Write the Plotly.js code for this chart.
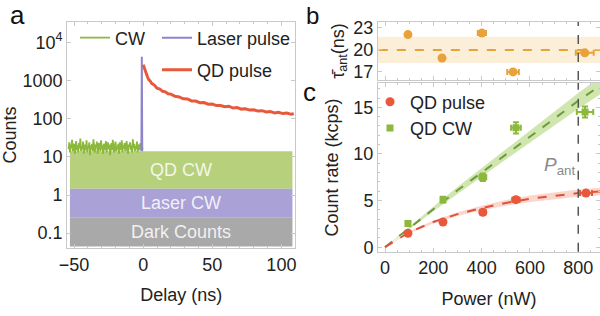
<!DOCTYPE html>
<html><head><meta charset="utf-8">
<script src="https://cdn.plot.ly/plotly-3.0.1.min.js"></script>
<style>html,body{margin:0;padding:0;background:#fff}#c{width:600px;height:316px}</style>
</head><body><div id="c"></div>
<script>
// ---------- Panel a data ----------
const cwStart = -54, cwStep = 0.5;
const cwCounts = [16,24,13,21,17,28,14,19,22,12,18,26,15,20,13,23,17,30,14,19,16,25,12,18,21,15,27,13,19,17,24,11,20,16,22,14,29,17,13,21,18,25,12,16,23,19,14,27,16,20,12,22,18,15,26,13,19,24,16,21,11,18,23,15,28,17,13,20,25,14,19,16,22,12,24,18,15,27,13,20,17,23,14,19,26,16,12,21,18,24,15,20,13,29,17,22,14,19,16,25,13,21,18,15,23,17,20,16];
const laserT = [-1.3, -1.0, -0.7];
const laserCounts = [14, 4200, 14];
const qdT = [0,1,2,3,4,5,6,8,10,12,14,16,18,20,23,26,29,32,35,38,41,44,47,50,53,56,59,62,65,68,71,74,77,80,83,86,89,92,95,98,101,104,107,109];
const qdCounts = [2600,1950,1480,1270,1060,980,850,760,630,600,520,505,450,440,385,372,332,328,292,290,262,264,240,242,220,222,205,212,190,195,178,181,168,171,158,162,150,155,142,147,136,140,130,134];
const bandNames = ['QD CW','Laser CW','Dark Counts'];
const bandLow = [1.45, 0.26, 0.045];
const bandHigh = [14, 1.45, 0.26];
const bandX = [-53, 108];
const bandFill = ['#b7d07c','#aaa2d6','#a9a9a9'];
const logTickVals = [1e4,1000,100,10,1,0.1];
const logTickText = ['10<sup>4</sup>','1000','100','10','1','0.1'];

// ---------- Panel b data ----------
const powerTau = [95, 236, 401, 530, 827];
const tau = [22.1, 18.9, 22.3, 17.0, 19.6];
const tauPowerErr = [4, 6, 17, 24, 37];
const tauMean = 20;
const tauBand = [18.2, 21.8];

// ---------- Panel c data ----------
const powerPulse = [95, 240, 405, 542, 832];
const ratePulse = [1.5, 2.7, 3.75, 5.1, 5.8];
const pulsePowerErr = [5, 8, 12, 15, 25];
const pulseRateErr = [0.1, 0.15, 0.2, 0.25, 0.25];
const powerCW = [95, 240, 405, 542, 828];
const rateCW = [2.55, 5.1, 7.5, 12.8, 14.5];
const cwPowerErr = [5, 8, 14, 20, 34];
const cwRateErr = [0.2, 0.3, 0.4, 0.6, 0.6];
const fitPower = [0,100,200,300,400,500,600,700,800,900];
const fitCW = [0,2.05,4.1,6.1,8.0,9.95,11.9,13.8,15.7,17.5];
const fitCWLow = [0,1.9,3.85,5.75,7.55,9.4,11.25,13.05,14.85,16.55];
const fitCWHigh = [0,2.2,4.35,6.45,8.45,10.5,12.55,14.55,16.55,18.45];
const fitPulse = [0,1.6,2.7,3.55,4.2,4.75,5.2,5.5,5.8,6.0];
const fitPulseLow = [0,1.5,2.55,3.35,3.95,4.45,4.85,5.15,5.4,5.6];
const fitPulseHigh = [0,1.7,2.85,3.75,4.45,5.05,5.55,5.85,6.2,6.4];
const pAnt = 800;
const cTicks = [0,200,400,600,800];

// ---------- styles ----------
const FONT = 'Liberation Sans, Arial, sans-serif';
const GREEN = '#8cb83c', PURPLE = '#8c84cc', RED = '#e8583a', ORANGE = '#e9a23a';
const FRAME = '#c9c9c9';

const cwT = cwCounts.map((_, i) => cwStart + i * cwStep);

const traces = [];
bandNames.forEach((n, i) => {
  traces.push({x:[bandX[0],bandX[1],bandX[1],bandX[0],bandX[0]],
    y:[bandLow[i],bandLow[i],bandHigh[i],bandHigh[i],bandLow[i]],
    fill:'toself', fillcolor:bandFill[i], line:{width:0}, mode:'lines',
    showlegend:false, hoverinfo:'skip', xaxis:'x', yaxis:'y'});
});
traces.push({x:cwT, y:cwCounts, mode:'lines', name:'CW', line:{color:GREEN, width:1.8},
  xaxis:'x', yaxis:'y', legend:'legend'});
traces.push({x:laserT, y:laserCounts, mode:'lines', name:'Laser pulse', line:{color:PURPLE, width:2},
  xaxis:'x', yaxis:'y', legend:'legend2'});
traces.push({x:qdT, y:qdCounts, mode:'lines', name:'QD pulse', line:{color:RED, width:3},
  xaxis:'x', yaxis:'y', legend:'legend3'});

// panel b
traces.push({x:[-100, 1000, 1000, -100, -100],
  y:[tauBand[0],tauBand[0],tauBand[1],tauBand[1],tauBand[0]], fill:'toself', fillcolor:'rgba(247,215,160,0.4)',
  line:{width:0}, mode:'lines', showlegend:false, xaxis:'x2', yaxis:'y2', hoverinfo:'skip'});
traces.push({x:[-100, 1000], y:[tauMean, tauMean], mode:'lines', line:{color:ORANGE, width:2, dash:'dash'},
  showlegend:false, xaxis:'x2', yaxis:'y2'});
traces.push({x:powerTau, y:tau, mode:'markers', marker:{color:ORANGE, size:9},
  error_x:{type:'data', array:tauPowerErr, color:ORANGE, thickness:2, width:3},
  showlegend:false, xaxis:'x2', yaxis:'y2'});

// panel c fit bands
traces.push({x:fitPower.concat(fitPower.slice().reverse()), y:fitCWHigh.concat(fitCWLow.slice().reverse()),
  fill:'toself', fillcolor:'rgba(170,210,110,0.55)', line:{width:0}, mode:'lines', showlegend:false,
  xaxis:'x3', yaxis:'y3', hoverinfo:'skip'});
traces.push({x:fitPower.concat(fitPower.slice().reverse()), y:fitPulseHigh.concat(fitPulseLow.slice().reverse()),
  fill:'toself', fillcolor:'rgba(245,165,145,0.45)', line:{width:0}, mode:'lines', showlegend:false,
  xaxis:'x3', yaxis:'y3', hoverinfo:'skip'});
traces.push({x:fitPower, y:fitCW, mode:'lines', line:{color:'#6f9a3e', width:2, dash:'dash'}, showlegend:false, xaxis:'x3', yaxis:'y3'});
traces.push({x:fitPower, y:fitPulse, mode:'lines', line:{color:'#e0503a', width:2, dash:'dash'}, showlegend:false, xaxis:'x3', yaxis:'y3'});
traces.push({x:powerPulse, y:ratePulse, mode:'markers', name:'QD pulse', marker:{color:RED, size:9, symbol:'circle'},
  error_x:{type:'data', array:pulsePowerErr, color:RED, thickness:2, width:3},
  error_y:{type:'data', array:pulseRateErr, color:RED, thickness:2, width:3},
  xaxis:'x3', yaxis:'y3', legend:'legend4'});
traces.push({x:powerCW, y:rateCW, mode:'markers', name:'QD CW', marker:{color:GREEN, size:7, symbol:'square'},
  error_x:{type:'data', array:cwPowerErr, color:GREEN, thickness:2, width:3},
  error_y:{type:'data', array:cwRateErr, color:GREEN, thickness:2, width:3},
  xaxis:'x3', yaxis:'y3', legend:'legend4'});

const tickFont = {family:FONT, size:18, color:'#222'};
function ax(extra){
  return Object.assign({showgrid:false, zeroline:false, showline:true, mirror:'ticks', linecolor:FRAME, linewidth:1,
    ticks:'inside', ticklen:4, tickcolor:FRAME, tickfont:tickFont, automargin:false, fixedrange:true}, extra);
}
const annotations = [
  {text:'a', x:17, y:15, size:26},
  {text:'b', x:312, y:15, size:24},
  {text:'c', x:309, y:92, size:26},
].map(a => ({text:a.text, x:a.x/600, y:1-a.y/316, xref:'paper', yref:'paper', showarrow:false,
  font:{family:FONT, size:a.size, color:'#111'}, xanchor:'center', yanchor:'middle'}));
bandNames.forEach((n, i) => {
  annotations.push({text:n, x:(bandX[0]+bandX[1])/2, y:(Math.log10(bandLow[i])+Math.log10(bandHigh[i]))/2,
    xref:'x', yref:'y', showarrow:false, font:{family:FONT, size:18, color:'rgba(255,255,255,0.85)'}});
});
annotations.push({text:'<i>P</i><sub>ant</sub>', x:722, y:8.7, xref:'x3', yref:'y3', showarrow:false,
  font:{family:FONT, size:19, color:'#8a8a8a'}});

const legendBase = {bgcolor:'rgba(0,0,0,0)', font:{family:FONT, size:18, color:'#222'}, xref:'paper', yref:'paper',
  xanchor:'left', yanchor:'middle', itemwidth:30};

const layout = {
  width:600, height:316, margin:{l:0, r:0, t:0, b:0}, paper_bgcolor:'#fff', plot_bgcolor:'#fff',
  font:{family:FONT, size:18, color:'#222'},
  xaxis: ax({domain:[0.112, 0.492], range:[-55, 110], anchor:'y', tickvals:[-50,0,50,100], ticktext:['\u221250','0','50','100'],
    minor:{ticks:'inside', ticklen:2, tickcolor:FRAME, dtick:10},
    title:{text:'Delay (ns)', font:{family:FONT, size:18, color:'#222'}, standoff:14}}),
  yaxis: ax({type:'log', domain:[0.215, 0.930], range:[-1.39, 4.53], anchor:'x', tickvals:logTickVals, ticktext:logTickText,
    title:{text:'Counts', font:{family:FONT, size:18, color:'#222'}, standoff:8}}),
  xaxis2: ax({domain:[0.63, 1.0], range:[-29, 890], anchor:'y2', tickvals:cTicks, showticklabels:false,
    minor:{ticks:'inside', ticklen:2, tickcolor:FRAME, dtick:50}}),
  yaxis2: ax({domain:[0.747, 0.930], range:[15.9, 23.8], anchor:'x2', tickvals:[17,20,23],
    title:{text:'\u03C4\u0304<sub>ant</sub>(ns)', font:{family:FONT, size:18, color:'#222'}, standoff:4}}),
  xaxis3: ax({domain:[0.63, 1.0], range:[-29, 890], anchor:'y3', tickvals:cTicks,
    minor:{ticks:'inside', ticklen:2, tickcolor:FRAME, dtick:50},
    title:{text:'Power (nW)', font:{family:FONT, size:18, color:'#222'}, standoff:14}}),
  yaxis3: ax({domain:[0.203, 0.737], range:[-0.5, 17.6], anchor:'x3', tickvals:[0,5,10,15],
    minor:{ticks:'inside', ticklen:2, tickcolor:FRAME, dtick:1},
    title:{text:'Count rate (kcps)', font:{family:FONT, size:18, color:'#222'}, standoff:10}}),
  legend: Object.assign({}, legendBase, {x:75/600, y:1-38/316}),
  legend2: Object.assign({}, legendBase, {x:157/600, y:1-38/316}),
  legend3: Object.assign({}, legendBase, {x:157/600, y:1-70/316}),
  legend4: Object.assign({}, legendBase, {x:370/600, y:1-115/316, tracegroupgap:0}),
  shapes: [
    {type:'line', xref:'x2', yref:'y2 domain', x0:pAnt, x1:pAnt, y0:0, y1:1, line:{color:'#555', width:1.5, dash:'dash'}},
    {type:'line', xref:'x3', yref:'y3 domain', x0:pAnt, x1:pAnt, y0:0, y1:1, line:{color:'#555', width:1.5, dash:'dash'}}
  ],
  annotations: annotations,
  showlegend:true
};
Plotly.newPlot('c', traces, layout, {staticPlot:true, displayModeBar:false});
</script></body></html>
